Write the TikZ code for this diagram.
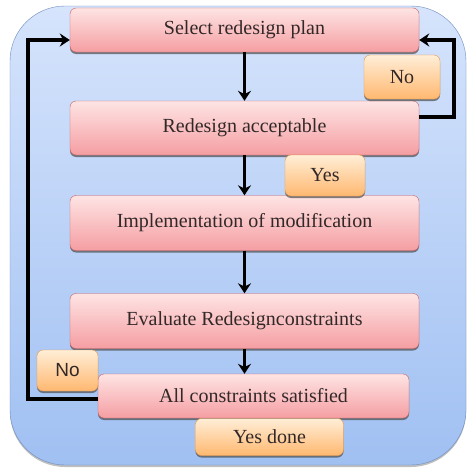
\documentclass[tikz,border=0pt]{standalone}
\usepackage{fontspec}
\setmainfont{Liberation Serif}
\newfontfamily\arialfont{Liberation Sans}
\usetikzlibrary{arrows.meta,shadows}

\definecolor{bgtop}{RGB}{214,228,252}
\definecolor{bgbot}{RGB}{160,192,242}
\definecolor{bgline}{RGB}{110,140,190}
\definecolor{pinktop}{RGB}{254,228,228}
\definecolor{pinkbot}{RGB}{245,158,162}
\definecolor{pinkline}{RGB}{200,95,95}
\definecolor{oratop}{RGB}{255,238,215}
\definecolor{orabot}{RGB}{255,184,112}
\definecolor{oraline}{RGB}{230,150,70}
\definecolor{txt}{RGB}{50,40,40}

\begin{document}
\begin{tikzpicture}[x=1pt,y=-1pt,
  stage/.style={draw=pinkline,rounded corners=6pt,top color=pinktop,bottom color=pinkbot,
    inner sep=0pt,text=txt,font=\fontsize{20pt}{24pt}\selectfont,
    drop shadow={shadow xshift=0pt,shadow yshift=-2pt,fill=black!70,opacity=.7}},
  answer/.style={stage,draw=oraline,top color=oratop,bottom color=orabot},
  flow/.style={line width=3.8pt,-{Stealth[length=10pt,width=13pt]}}]

\useasboundingbox (0,0) rectangle (472,471);

% outline
\draw [draw=bgline,top color=bgtop,bottom color=bgbot,rounded corners=55pt,
       drop shadow={shadow xshift=0pt,shadow yshift=-2pt,fill=black!50,opacity=.5}]
      (10,6) rectangle (466,465);

% steps
\node [stage,minimum width=349pt,minimum height=44pt] (sel)  at (244.5,30)  {Select redesign plan};
\node [stage,minimum width=349pt,minimum height=54pt] (acc)  at (244.5,128) {Redesign acceptable};
\node [stage,minimum width=349pt,minimum height=55pt] (impl) at (244.5,223) {Implementation of modification};
\node [stage,minimum width=349pt,minimum height=55pt] (eval) at (244.5,321) {Evaluate Redesignconstraints};
\node [stage,minimum width=311pt,minimum height=44pt] (sat)  at (253.5,396) {All constraints satisfied};

% arrows
\draw [flow] (sel) -- (acc);
\draw [flow] (acc) -- (impl);
\draw [flow] (impl) -- (eval);
\draw [flow] (eval.south) -- (eval.south |- sat.north);
\draw [flow] ([yshift=11pt]acc.east) -- ++(35,0) |- ([yshift=-10pt]sel.east);
\draw [flow] ([yshift=-3pt]sat.west) -- ++(-70,0) |- ([yshift=-10pt]sel.west);

% answers
\node [answer,minimum width=76pt,minimum height=44pt]  (no)   at (402,77)    {No};
\node [answer,minimum width=80pt,minimum height=41pt]  (yes)  at (325,175.5) {Yes};
\node [answer,minimum width=61pt,minimum height=41pt,font=\arialfont\fontsize{19pt}{22pt}\selectfont]
      (nosat) at (67.5,370.5) {No};
\node [answer,minimum width=148pt,minimum height=37pt] (done) at (269.5,437) {Yes done};
\end{tikzpicture}
\end{document}
